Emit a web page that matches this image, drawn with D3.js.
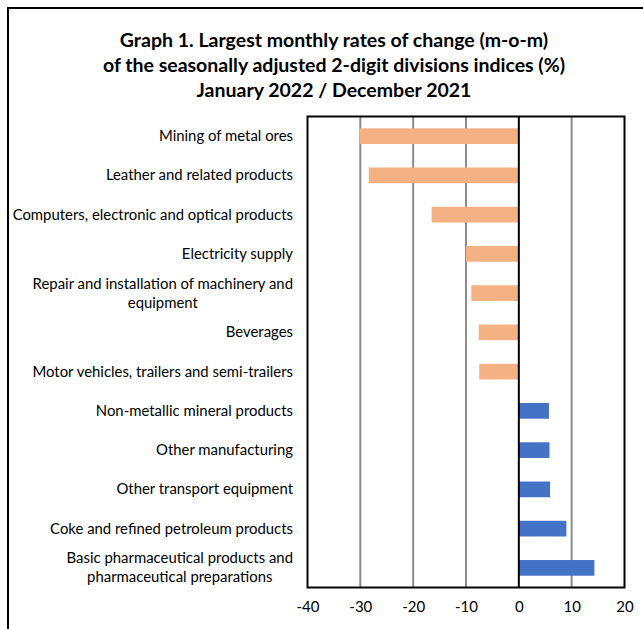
<!DOCTYPE html>
<html><head><meta charset="utf-8">
<script src="https://cdn.jsdelivr.net/npm/d3@7"></script>
<style>body{margin:0;background:#fff}svg{display:block}text{font-family:Lato,"Open Sans",sans-serif;fill:#000}</style>
</head><body>
<svg id="c" width="643" height="629"></svg>
<script>
const categories = [
  ["Mining of metal ores"],
  ["Leather and related products"],
  ["Computers, electronic and optical products"],
  ["Electricity supply"],
  ["Repair and installation of machinery and", "equipment"],
  ["Beverages"],
  ["Motor vehicles, trailers and semi-trailers"],
  ["Non-metallic mineral products"],
  ["Other manufacturing"],
  ["Other transport equipment"],
  ["Coke and refined petroleum products"],
  ["Basic pharmaceutical products and", "pharmaceutical preparations"]
];
const values = [-30.1, -28.4, -16.5, -10.0, -9.0, -7.6, -7.5, 5.7, 5.8, 5.9, 9.0, 14.3];
const xTicks = [-40, -30, -20, -10, 0, 10, 20];
const titleLines = [
  "Graph 1. Largest monthly rates of change (m-o-m)",
  "of the seasonally adjusted 2-digit divisions indices (%)",
  "January 2022 / December 2021"
];
const negColor = "#F4B183", posColor = "#4472C4";

const svg = d3.select("#c");
// outer frame
svg.append("path").attr("d", "M8,640 L8,8 L650,8").attr("fill", "none").attr("stroke", "#000").attr("stroke-width", 2);

const L = 307.5, R = 624.5, T = 116.5, B = 587.5;
const x = d3.scaleLinear().domain([-40, 20]).range([L, R]);
const y = d3.scaleBand().domain(d3.range(categories.length)).range([T, B]).paddingInner(0.6).paddingOuter(0.3);

// title
svg.append("g").selectAll("text").data(titleLines).join("text")
  .attr("x", 334).attr("y", (d, i) => 47 + i * 25)
  .attr("text-anchor", "middle").attr("font-size", 19.5).attr("font-weight", "bold").text(d => d);

// gridlines
svg.append("g").selectAll("line").data(xTicks.filter(t => t !== 0 && t !== -40 && t !== 20)).join("line")
  .attr("x1", d => x(d)).attr("x2", d => x(d)).attr("y1", T).attr("y2", B)
  .attr("stroke", "#8c8c8c").attr("stroke-width", 2);

// bars
svg.append("g").selectAll("rect").data(values).join("rect")
  .attr("x", d => x(Math.min(0, d))).attr("width", d => Math.abs(x(d) - x(0)))
  .attr("y", (d, i) => y(i)).attr("height", y.bandwidth())
  .attr("fill", d => d < 0 ? negColor : posColor);

// zero line
svg.append("line").attr("x1", x(0)).attr("x2", x(0)).attr("y1", T).attr("y2", B).attr("stroke", "#000").attr("stroke-width", 2);
// plot border
svg.append("rect").attr("x", L).attr("y", T).attr("width", R - L).attr("height", B - T)
  .attr("fill", "none").attr("stroke", "#000").attr("stroke-width", 2);

// x axis
const xa = svg.append("g").attr("transform", `translate(0,${B})`)
  .call(d3.axisBottom(x).tickValues(xTicks).tickSize(0).tickPadding(14).tickFormat(d => String(d)));
xa.select(".domain").remove();
xa.selectAll("text").attr("font-size", 15).style("font-family", "Lato, sans-serif");

// category labels
const lab = svg.append("g");
categories.forEach((lines, i) => {
  const cy = y(i) + y.bandwidth() / 2;
  const lh = 19;
  const g = lab.append("g");
  const ts = lines.map((ln, j) => g.append("text").attr("font-size", 14.9)
    .attr("y", cy + (j - (lines.length - 1) / 2) * lh + 5).text(ln));
  const widths = ts.map(t => t.node().getComputedTextLength());
  const maxW = Math.max(...widths);
  const cx = 293 - maxW / 2;
  ts.forEach(t => t.attr("x", cx).attr("text-anchor", "middle"));
});
</script>
</body></html>
